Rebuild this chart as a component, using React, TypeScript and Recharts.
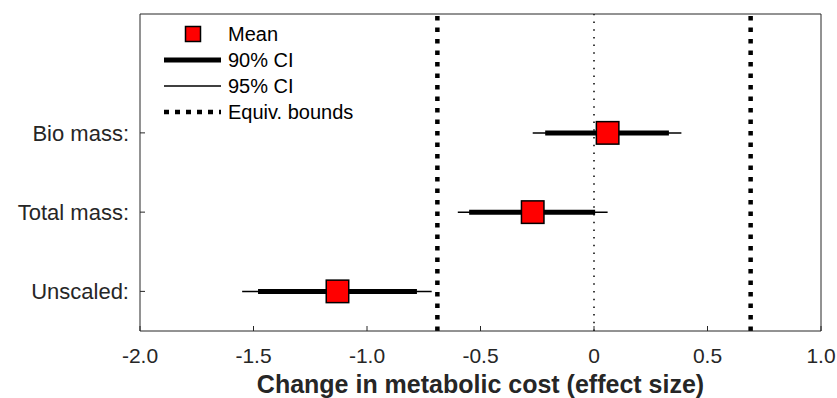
import React from 'react'
import {
  ScatterChart,
  Scatter,
  XAxis,
  YAxis,
  ErrorBar,
  ReferenceLine,
  Label,
} from 'recharts'

// conditions, bottom to top
const conditions = ['Unscaled:', 'Total mass:', 'Bio mass:']
const rowPositions = [0.5, 1.5, 2.5]

// effect sizes with their confidence intervals
const means = [-1.13, -0.27, 0.06]
const ci90Low = [-1.48, -0.55, -0.215]
const ci90High = [-0.78, 0.005, 0.33]
const ci95Low = [-1.55, -0.6, -0.27]
const ci95High = [-0.715, 0.06, 0.385]

const equivBound = 0.69

const xTicks = [-2, -1.5, -1, -0.5, 0, 0.5, 1]
const xTickLabels = ['-2.0', '-1.5', '-1.0', '-0.5', '0', '0.5', '1.0']

const FONT = '"Liberation Sans", Arial, Helvetica, sans-serif'
const AXIS = '#262626'

const rows = conditions.map((name, i) => ({
  name,
  x: means[i],
  y: rowPositions[i],
  err90: [means[i] - ci90Low[i], ci90High[i] - means[i]],
  err95: [means[i] - ci95Low[i], ci95High[i] - means[i]],
}))

const formatX = (v: number) => xTickLabels[xTicks.indexOf(v)] ?? String(v)
const formatY = (v: number) => conditions[rowPositions.indexOf(v)] ?? ''

function MeanSquare(props: any) {
  const { cx, cy } = props
  const s = 22.5
  return (
    <rect x={cx - s / 2} y={cy - s / 2} width={s} height={s} fill="#ff0000" stroke="#000" strokeWidth={1.5} />
  )
}

function LegendBox() {
  const textStyle = { fontFamily: FONT, fontSize: 20, fill: '#000' }
  return (
    <svg width={240} height={130} style={{ position: 'absolute', left: 150, top: 14 }}>
      <rect x={35.5} y={12.5} width={15} height={15} fill="#ff0000" stroke="#000" strokeWidth={1.5} />
      <text x={78} y={27} {...textStyle}>Mean</text>
      <line x1={14} x2={71} y1={46} y2={46} stroke="#000" strokeWidth={5} />
      <text x={78} y={53} {...textStyle}>90% CI</text>
      <line x1={14} x2={71} y1={72} y2={72} stroke="#000" strokeWidth={1.5} />
      <text x={78} y={79} {...textStyle}>95% CI</text>
      <line x1={14} x2={71} y1={98} y2={98} stroke="#000" strokeWidth={4.5} strokeDasharray="5 6" />
      <text x={78} y={105} {...textStyle}>Equiv. bounds</text>
    </svg>
  )
}

export default function App() {
  return (
    <div style={{ position: 'absolute', left: 0, top: 0, width: 837, height: 398, background: '#fff' }}>
      <ScatterChart width={837} height={398} margin={{ top: 13, right: 15, bottom: 0, left: 0 }}>
        <XAxis
          type="number"
          dataKey="x"
          domain={[-2, 1]}
          ticks={xTicks}
          tickFormatter={formatX}
          height={67}
          tickSize={-5}
          tickMargin={22}
          stroke={AXIS}
          tick={{ fill: AXIS, fontSize: 21, fontFamily: FONT }}
          allowDataOverflow
        >
          <Label
            value="Change in metabolic cost (effect size)"
            position="insideBottom"
            offset={5}
            style={{ fontFamily: FONT, fontSize: 25, fontWeight: 'bold', fill: AXIS }}
          />
        </XAxis>
        {/* top and right axes close the box and carry inward ticks */}
        <XAxis
          xAxisId="top"
          orientation="top"
          type="number"
          domain={[-2, 1]}
          ticks={xTicks}
          tickFormatter={() => ''}
          height={1}
          tickSize={-5}
          stroke={AXIS}
        />
        <YAxis
          type="number"
          dataKey="y"
          domain={[0, 4]}
          ticks={rowPositions}
          tickFormatter={formatY}
          width={140}
          tickSize={-5}
          tickMargin={16}
          stroke={AXIS}
          tick={{ fill: AXIS, fontSize: 22, fontFamily: FONT }}
        />
        <YAxis
          yAxisId="right"
          orientation="right"
          type="number"
          domain={[0, 4]}
          ticks={rowPositions}
          tickFormatter={() => ''}
          width={1}
          tickSize={-5}
          stroke={AXIS}
        />
        <ReferenceLine x={0} stroke="#000" strokeWidth={1.5} strokeDasharray="1.5 6.2" />
        <ReferenceLine x={-equivBound} stroke="#000" strokeWidth={4.5} strokeDasharray="4.5 7" />
        <ReferenceLine x={equivBound} stroke="#000" strokeWidth={4.5} strokeDasharray="4.5 7" />
        <Scatter data={rows} shape={<MeanSquare />} isAnimationActive={false}>
          <ErrorBar dataKey="err95" direction="x" width={0} stroke="#000" strokeWidth={1.5} isAnimationActive={false} />
          <ErrorBar dataKey="err90" direction="x" width={0} stroke="#000" strokeWidth={5} isAnimationActive={false} />
        </Scatter>
      </ScatterChart>
      <LegendBox />
    </div>
  )
}
